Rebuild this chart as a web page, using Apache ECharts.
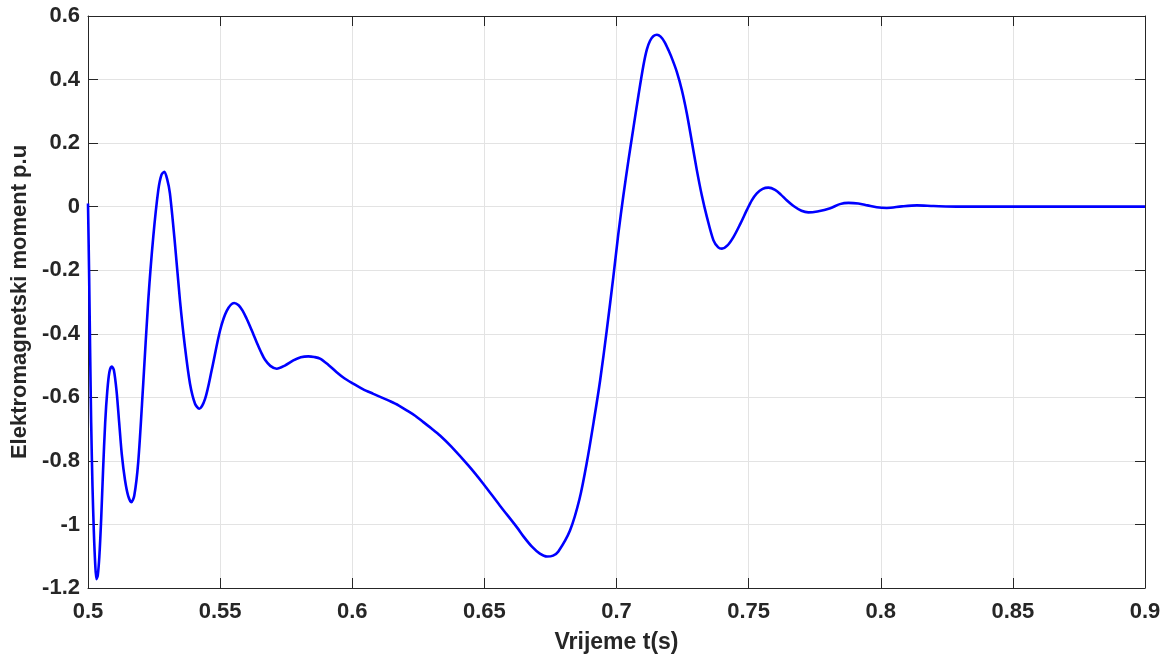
<!DOCTYPE html>
<html>
<head>
<meta charset="utf-8">
<script src="https://cdn.jsdelivr.net/npm/echarts@6/dist/echarts.min.js"></script>
<style>
html,body{margin:0;padding:0;background:#fff;}
#chart{width:1175px;height:661px;}
</style>
</head>
<body>
<div id="chart"></div>
<script>
// time (s)
var timeValues = [
0.5000,0.5004,0.5008,0.5012,0.5017,0.5022,0.5027,0.5032,0.5037,0.5043,
0.5050,0.5057,0.5065,0.5073,0.5081,0.5090,0.5098,0.5108,0.5118,0.5128,
0.5140,0.5152,0.5164,0.5175,0.5190,0.5209,0.5228,0.5247,0.5266,0.5278,
0.5289,0.5300,0.5310,0.5329,0.5348,0.5367,0.5386,0.5405,0.5421,0.5443,
0.5468,0.5500,0.5525,0.5553,0.5570,0.5585,0.5600,0.5613,0.5626,0.5639,
0.5655,0.5670,0.5690,0.5714,0.5745,0.5777,0.5805,0.5834,0.5856,0.5878,
0.5910,0.5941,0.5970,0.6004,0.6040,0.6080,0.6110,0.6143,0.6175,0.6206,
0.6238,0.6269,0.6300,0.6332,0.6375,0.6440,0.6495,0.6559,0.6624,0.6650,
0.6680,0.6710,0.6737,0.6760,0.6780,0.6824,0.6860,0.6889,0.6915,0.6938,
0.6963,0.6988,0.7007,0.7026,0.7045,0.7064,0.7083,0.7102,0.7115,0.7127,
0.7140,0.7153,0.7167,0.7182,0.7197,0.7212,0.7228,0.7247,0.7266,0.7285,
0.7304,0.7323,0.7342,0.7367,0.7385,0.7399,0.7420,0.7443,0.7468,0.7493,
0.7512,0.7531,0.7553,0.7575,0.7600,0.7622,0.7644,0.7670,0.7700,0.7726,
0.7760,0.7809,0.7845,0.7878,0.7915,0.7950,0.7985,0.8023,0.8080,0.8137,
0.8200,0.8300,0.8500,0.9000
];
// electromagnetic torque (p.u)
var torqueValues = [
0.010,-0.200,-0.450,-0.680,-0.880,-1.020,-1.120,-1.172,-1.160,-1.100,
-0.980,-0.830,-0.680,-0.580,-0.520,-0.503,-0.515,-0.580,-0.680,-0.780,
-0.860,-0.910,-0.930,-0.910,-0.805,-0.557,-0.295,-0.095,0.052,0.100,
0.110,0.085,0.042,-0.116,-0.295,-0.442,-0.557,-0.620,-0.636,-0.605,
-0.515,-0.389,-0.328,-0.303,-0.310,-0.327,-0.352,-0.376,-0.402,-0.428,
-0.458,-0.482,-0.501,-0.510,-0.500,-0.484,-0.474,-0.471,-0.473,-0.478,
-0.498,-0.521,-0.540,-0.557,-0.574,-0.589,-0.600,-0.612,-0.625,-0.641,
-0.658,-0.678,-0.698,-0.720,-0.755,-0.815,-0.871,-0.941,-1.010,-1.040,
-1.070,-1.092,-1.101,-1.098,-1.085,-1.019,-0.920,-0.799,-0.670,-0.547,
-0.390,-0.221,-0.085,0.035,0.145,0.248,0.350,0.445,0.495,0.522,
0.537,0.541,0.535,0.518,0.492,0.462,0.425,0.368,0.294,0.205,
0.115,0.035,-0.032,-0.106,-0.128,-0.132,-0.122,-0.095,-0.055,-0.011,
0.020,0.042,0.056,0.060,0.053,0.038,0.020,0.002,-0.013,-0.018,
-0.015,-0.005,0.008,0.012,0.010,0.004,-0.002,-0.004,0.001,0.004,
0.002,0.000,0.000,0.000
];
var xTitle = 'Vrijeme t(s)';
var yTitle = 'Elektromagnetski moment p.u';

var seriesData = timeValues.map(function(t,i){return [t, torqueValues[i]];});

var fontFam = 'Liberation Sans, Arial, sans-serif';
var axisColor = '#262626';
var gridColor = '#e3e3e3';
var labelFont = {color: axisColor, fontSize: 22, fontWeight: 'bold', fontFamily: fontFam};

var chart = echarts.init(document.getElementById('chart'), null, {renderer: 'canvas'});
chart.setOption({
  animation: false,
  backgroundColor: '#ffffff',
  grid: {left: 88, right: 30, top: 16, bottom: 73, containLabel: false},
  xAxis: [{
    type: 'value', min: 0.5, max: 0.9, interval: 0.05, position: 'bottom',
    name: xTitle, nameLocation: 'middle', nameGap: 43,
    nameTextStyle: {color: axisColor, fontSize: 23, fontWeight: 'bold', fontFamily: fontFam},
    axisLine: {show: true, onZero: false, lineStyle: {color: axisColor, width: 1}},
    axisTick: {show: true, inside: true, length: 10, lineStyle: {color: axisColor}},
    axisLabel: Object.assign({margin: 13, formatter: function(v){return String(+v.toFixed(2));}}, labelFont),
    splitLine: {show: true, lineStyle: {color: gridColor, width: 1}}
  },{
    type: 'value', min: 0.5, max: 0.9, interval: 0.05, position: 'top',
    axisLine: {show: true, onZero: false, lineStyle: {color: axisColor, width: 1}},
    axisTick: {show: true, inside: true, length: 10, lineStyle: {color: axisColor}},
    axisLabel: {show: false}, splitLine: {show: false}
  }],
  yAxis: [{
    type: 'value', min: -1.2, max: 0.6, interval: 0.2, position: 'left',
    name: yTitle, nameLocation: 'middle', nameGap: 54,
    nameTextStyle: {color: axisColor, fontSize: 22, fontWeight: 'bold', fontFamily: fontFam},
    axisLine: {show: true, onZero: false, lineStyle: {color: axisColor, width: 1}},
    axisTick: {show: true, inside: true, length: 10, lineStyle: {color: axisColor}},
    axisLabel: Object.assign({margin: 8, formatter: function(v){return String(+v.toFixed(1));}}, labelFont),
    splitLine: {show: true, lineStyle: {color: gridColor, width: 1}}
  },{
    type: 'value', min: -1.2, max: 0.6, interval: 0.2, position: 'right',
    axisLine: {show: true, onZero: false, lineStyle: {color: axisColor, width: 1}},
    axisTick: {show: true, inside: true, length: 10, lineStyle: {color: axisColor}},
    axisLabel: {show: false}, splitLine: {show: false}
  }],
  series: [{
    type: 'line', xAxisIndex: 0, yAxisIndex: 0,
    data: seriesData, showSymbol: false, smooth: 0.3,
    lineStyle: {color: '#0000ff', width: 2.6},
    clip: true
  }]
});
</script>
</body>
</html>
